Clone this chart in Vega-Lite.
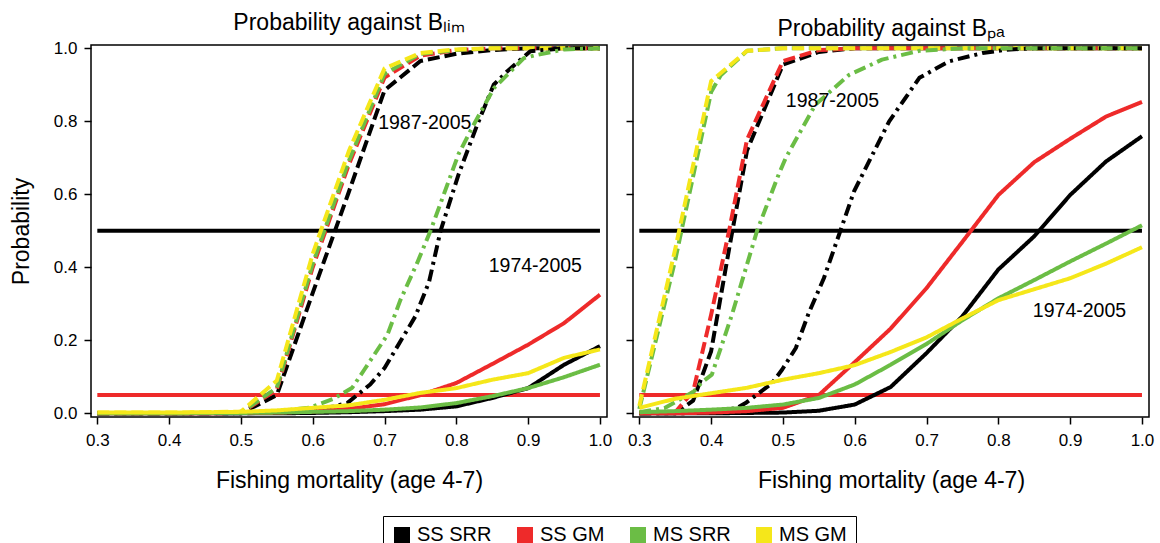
{
  "$schema": "https://vega.github.io/schema/vega-lite/v6.json",
  "background": "white",
  "padding": {"left": 9, "top": 11, "right": 5, "bottom": 5},
  "datasets": {
    "curves": [
      {"g":"lim","m":"SS SRR","s":"dashed","F":0.3,"P":0},{"g":"lim","m":"SS SRR","s":"dashed","F":0.35,"P":0},{"g":"lim","m":"SS SRR","s":"dashed","F":0.4,"P":0},{"g":"lim","m":"SS SRR","s":"dashed","F":0.45,"P":0},{"g":"lim","m":"SS SRR","s":"dashed","F":0.5,"P":0},{"g":"lim","m":"SS SRR","s":"dashed","F":0.515,"P":0.015},{"g":"lim","m":"SS SRR","s":"dashed","F":0.55,"P":0.05},{"g":"lim","m":"SS SRR","s":"dashed","F":0.6,"P":0.33},{"g":"lim","m":"SS SRR","s":"dashed","F":0.65,"P":0.605},{"g":"lim","m":"SS SRR","s":"dashed","F":0.7,"P":0.885},{"g":"lim","m":"SS SRR","s":"dashed","F":0.75,"P":0.965},{"g":"lim","m":"SS SRR","s":"dashed","F":0.8,"P":0.985},{"g":"lim","m":"SS SRR","s":"dashed","F":0.85,"P":0.995},{"g":"lim","m":"SS SRR","s":"dashed","F":0.9,"P":1},{"g":"lim","m":"SS SRR","s":"dashed","F":0.95,"P":1},{"g":"lim","m":"SS SRR","s":"dashed","F":1.0,"P":1},
      {"g":"lim","m":"SS GM","s":"dashed","F":0.3,"P":0},{"g":"lim","m":"SS GM","s":"dashed","F":0.35,"P":0},{"g":"lim","m":"SS GM","s":"dashed","F":0.4,"P":0},{"g":"lim","m":"SS GM","s":"dashed","F":0.45,"P":0.001},{"g":"lim","m":"SS GM","s":"dashed","F":0.5,"P":0.003},{"g":"lim","m":"SS GM","s":"dashed","F":0.515,"P":0.02},{"g":"lim","m":"SS GM","s":"dashed","F":0.55,"P":0.065},{"g":"lim","m":"SS GM","s":"dashed","F":0.6,"P":0.4},{"g":"lim","m":"SS GM","s":"dashed","F":0.65,"P":0.68},{"g":"lim","m":"SS GM","s":"dashed","F":0.7,"P":0.92},{"g":"lim","m":"SS GM","s":"dashed","F":0.75,"P":0.98},{"g":"lim","m":"SS GM","s":"dashed","F":0.8,"P":0.995},{"g":"lim","m":"SS GM","s":"dashed","F":0.85,"P":1},{"g":"lim","m":"SS GM","s":"dashed","F":0.9,"P":1},{"g":"lim","m":"SS GM","s":"dashed","F":0.95,"P":1},{"g":"lim","m":"SS GM","s":"dashed","F":1.0,"P":1},
      {"g":"lim","m":"MS SRR","s":"dashed","F":0.3,"P":0},{"g":"lim","m":"MS SRR","s":"dashed","F":0.35,"P":0},{"g":"lim","m":"MS SRR","s":"dashed","F":0.4,"P":0},{"g":"lim","m":"MS SRR","s":"dashed","F":0.45,"P":0.001},{"g":"lim","m":"MS SRR","s":"dashed","F":0.5,"P":0.004},{"g":"lim","m":"MS SRR","s":"dashed","F":0.515,"P":0.022},{"g":"lim","m":"MS SRR","s":"dashed","F":0.55,"P":0.07},{"g":"lim","m":"MS SRR","s":"dashed","F":0.6,"P":0.41},{"g":"lim","m":"MS SRR","s":"dashed","F":0.65,"P":0.69},{"g":"lim","m":"MS SRR","s":"dashed","F":0.7,"P":0.93},{"g":"lim","m":"MS SRR","s":"dashed","F":0.75,"P":0.985},{"g":"lim","m":"MS SRR","s":"dashed","F":0.8,"P":0.995},{"g":"lim","m":"MS SRR","s":"dashed","F":0.85,"P":1},{"g":"lim","m":"MS SRR","s":"dashed","F":0.9,"P":1},{"g":"lim","m":"MS SRR","s":"dashed","F":0.95,"P":1},{"g":"lim","m":"MS SRR","s":"dashed","F":1.0,"P":1},
      {"g":"lim","m":"MS GM","s":"dashed","F":0.3,"P":0.002},{"g":"lim","m":"MS GM","s":"dashed","F":0.35,"P":0.002},{"g":"lim","m":"MS GM","s":"dashed","F":0.4,"P":0.002},{"g":"lim","m":"MS GM","s":"dashed","F":0.45,"P":0.003},{"g":"lim","m":"MS GM","s":"dashed","F":0.5,"P":0.005},{"g":"lim","m":"MS GM","s":"dashed","F":0.515,"P":0.03},{"g":"lim","m":"MS GM","s":"dashed","F":0.55,"P":0.09},{"g":"lim","m":"MS GM","s":"dashed","F":0.6,"P":0.437},{"g":"lim","m":"MS GM","s":"dashed","F":0.65,"P":0.717},{"g":"lim","m":"MS GM","s":"dashed","F":0.7,"P":0.945},{"g":"lim","m":"MS GM","s":"dashed","F":0.75,"P":0.987},{"g":"lim","m":"MS GM","s":"dashed","F":0.8,"P":0.997},{"g":"lim","m":"MS GM","s":"dashed","F":0.85,"P":1},{"g":"lim","m":"MS GM","s":"dashed","F":0.9,"P":1},{"g":"lim","m":"MS GM","s":"dashed","F":0.95,"P":1},{"g":"lim","m":"MS GM","s":"dashed","F":1.0,"P":1},

      {"g":"lim","m":"SS SRR","s":"dashdot","F":0.3,"P":0},{"g":"lim","m":"SS SRR","s":"dashdot","F":0.35,"P":0},{"g":"lim","m":"SS SRR","s":"dashdot","F":0.4,"P":0},{"g":"lim","m":"SS SRR","s":"dashdot","F":0.45,"P":0},{"g":"lim","m":"SS SRR","s":"dashdot","F":0.5,"P":0},{"g":"lim","m":"SS SRR","s":"dashdot","F":0.55,"P":0.002},{"g":"lim","m":"SS SRR","s":"dashdot","F":0.6,"P":0.008},{"g":"lim","m":"SS SRR","s":"dashdot","F":0.629,"P":0.019},{"g":"lim","m":"SS SRR","s":"dashdot","F":0.648,"P":0.028},{"g":"lim","m":"SS SRR","s":"dashdot","F":0.68,"P":0.079},{"g":"lim","m":"SS SRR","s":"dashdot","F":0.7,"P":0.124},{"g":"lim","m":"SS SRR","s":"dashdot","F":0.743,"P":0.266},{"g":"lim","m":"SS SRR","s":"dashdot","F":0.762,"P":0.36},{"g":"lim","m":"SS SRR","s":"dashdot","F":0.778,"P":0.5},{"g":"lim","m":"SS SRR","s":"dashdot","F":0.803,"P":0.654},{"g":"lim","m":"SS SRR","s":"dashdot","F":0.829,"P":0.79},{"g":"lim","m":"SS SRR","s":"dashdot","F":0.852,"P":0.9},{"g":"lim","m":"SS SRR","s":"dashdot","F":0.871,"P":0.937},{"g":"lim","m":"SS SRR","s":"dashdot","F":0.903,"P":0.992},{"g":"lim","m":"SS SRR","s":"dashdot","F":0.95,"P":1},{"g":"lim","m":"SS SRR","s":"dashdot","F":1.0,"P":1},
      {"g":"lim","m":"MS SRR","s":"dashdot","F":0.3,"P":0},{"g":"lim","m":"MS SRR","s":"dashdot","F":0.35,"P":0},{"g":"lim","m":"MS SRR","s":"dashdot","F":0.4,"P":0},{"g":"lim","m":"MS SRR","s":"dashdot","F":0.45,"P":0.001},{"g":"lim","m":"MS SRR","s":"dashdot","F":0.5,"P":0.002},{"g":"lim","m":"MS SRR","s":"dashdot","F":0.55,"P":0.005},{"g":"lim","m":"MS SRR","s":"dashdot","F":0.597,"P":0.016},{"g":"lim","m":"MS SRR","s":"dashdot","F":0.629,"P":0.04},{"g":"lim","m":"MS SRR","s":"dashdot","F":0.655,"P":0.07},{"g":"lim","m":"MS SRR","s":"dashdot","F":0.672,"P":0.12},{"g":"lim","m":"MS SRR","s":"dashdot","F":0.704,"P":0.215},{"g":"lim","m":"MS SRR","s":"dashdot","F":0.722,"P":0.31},{"g":"lim","m":"MS SRR","s":"dashdot","F":0.745,"P":0.41},{"g":"lim","m":"MS SRR","s":"dashdot","F":0.764,"P":0.5},{"g":"lim","m":"MS SRR","s":"dashdot","F":0.803,"P":0.71},{"g":"lim","m":"MS SRR","s":"dashdot","F":0.824,"P":0.79},{"g":"lim","m":"MS SRR","s":"dashdot","F":0.852,"P":0.89},{"g":"lim","m":"MS SRR","s":"dashdot","F":0.894,"P":0.973},{"g":"lim","m":"MS SRR","s":"dashdot","F":0.908,"P":0.98},{"g":"lim","m":"MS SRR","s":"dashdot","F":0.95,"P":0.997},{"g":"lim","m":"MS SRR","s":"dashdot","F":1.0,"P":1},

      {"g":"lim","m":"SS SRR","s":"solid","F":0.3,"P":0},{"g":"lim","m":"SS SRR","s":"solid","F":0.35,"P":0},{"g":"lim","m":"SS SRR","s":"solid","F":0.4,"P":0},{"g":"lim","m":"SS SRR","s":"solid","F":0.45,"P":0},{"g":"lim","m":"SS SRR","s":"solid","F":0.5,"P":0},{"g":"lim","m":"SS SRR","s":"solid","F":0.55,"P":0},{"g":"lim","m":"SS SRR","s":"solid","F":0.6,"P":0.001},{"g":"lim","m":"SS SRR","s":"solid","F":0.65,"P":0.003},{"g":"lim","m":"SS SRR","s":"solid","F":0.7,"P":0.006},{"g":"lim","m":"SS SRR","s":"solid","F":0.75,"P":0.01},{"g":"lim","m":"SS SRR","s":"solid","F":0.8,"P":0.019},{"g":"lim","m":"SS SRR","s":"solid","F":0.85,"P":0.042},{"g":"lim","m":"SS SRR","s":"solid","F":0.9,"P":0.069},{"g":"lim","m":"SS SRR","s":"solid","F":0.95,"P":0.133},{"g":"lim","m":"SS SRR","s":"solid","F":1.0,"P":0.184},
      {"g":"lim","m":"SS GM","s":"solid","F":0.3,"P":0},{"g":"lim","m":"SS GM","s":"solid","F":0.35,"P":0},{"g":"lim","m":"SS GM","s":"solid","F":0.4,"P":0},{"g":"lim","m":"SS GM","s":"solid","F":0.45,"P":0},{"g":"lim","m":"SS GM","s":"solid","F":0.5,"P":0.001},{"g":"lim","m":"SS GM","s":"solid","F":0.55,"P":0.002},{"g":"lim","m":"SS GM","s":"solid","F":0.6,"P":0.005},{"g":"lim","m":"SS GM","s":"solid","F":0.65,"P":0.012},{"g":"lim","m":"SS GM","s":"solid","F":0.7,"P":0.025},{"g":"lim","m":"SS GM","s":"solid","F":0.75,"P":0.05},{"g":"lim","m":"SS GM","s":"solid","F":0.8,"P":0.083},{"g":"lim","m":"SS GM","s":"solid","F":0.85,"P":0.135},{"g":"lim","m":"SS GM","s":"solid","F":0.9,"P":0.188},{"g":"lim","m":"SS GM","s":"solid","F":0.95,"P":0.247},{"g":"lim","m":"SS GM","s":"solid","F":1.0,"P":0.325},
      {"g":"lim","m":"MS SRR","s":"solid","F":0.3,"P":0},{"g":"lim","m":"MS SRR","s":"solid","F":0.35,"P":0},{"g":"lim","m":"MS SRR","s":"solid","F":0.4,"P":0},{"g":"lim","m":"MS SRR","s":"solid","F":0.45,"P":0.001},{"g":"lim","m":"MS SRR","s":"solid","F":0.5,"P":0.001},{"g":"lim","m":"MS SRR","s":"solid","F":0.55,"P":0.002},{"g":"lim","m":"MS SRR","s":"solid","F":0.6,"P":0.004},{"g":"lim","m":"MS SRR","s":"solid","F":0.65,"P":0.006},{"g":"lim","m":"MS SRR","s":"solid","F":0.7,"P":0.01},{"g":"lim","m":"MS SRR","s":"solid","F":0.75,"P":0.016},{"g":"lim","m":"MS SRR","s":"solid","F":0.8,"P":0.028},{"g":"lim","m":"MS SRR","s":"solid","F":0.85,"P":0.047},{"g":"lim","m":"MS SRR","s":"solid","F":0.9,"P":0.069},{"g":"lim","m":"MS SRR","s":"solid","F":0.95,"P":0.099},{"g":"lim","m":"MS SRR","s":"solid","F":1.0,"P":0.133},
      {"g":"lim","m":"MS GM","s":"solid","F":0.3,"P":0.002},{"g":"lim","m":"MS GM","s":"solid","F":0.35,"P":0.002},{"g":"lim","m":"MS GM","s":"solid","F":0.4,"P":0.002},{"g":"lim","m":"MS GM","s":"solid","F":0.45,"P":0.003},{"g":"lim","m":"MS GM","s":"solid","F":0.5,"P":0.004},{"g":"lim","m":"MS GM","s":"solid","F":0.55,"P":0.008},{"g":"lim","m":"MS GM","s":"solid","F":0.6,"P":0.015},{"g":"lim","m":"MS GM","s":"solid","F":0.65,"P":0.022},{"g":"lim","m":"MS GM","s":"solid","F":0.7,"P":0.037},{"g":"lim","m":"MS GM","s":"solid","F":0.75,"P":0.056},{"g":"lim","m":"MS GM","s":"solid","F":0.8,"P":0.069},{"g":"lim","m":"MS GM","s":"solid","F":0.85,"P":0.092},{"g":"lim","m":"MS GM","s":"solid","F":0.9,"P":0.11},{"g":"lim","m":"MS GM","s":"solid","F":0.95,"P":0.152},{"g":"lim","m":"MS GM","s":"solid","F":1.0,"P":0.175},

      {"g":"pa","m":"SS SRR","s":"dashed","F":0.3,"P":0},{"g":"pa","m":"SS SRR","s":"dashed","F":0.35,"P":0},{"g":"pa","m":"SS SRR","s":"dashed","F":0.375,"P":0.035},{"g":"pa","m":"SS SRR","s":"dashed","F":0.4,"P":0.17},{"g":"pa","m":"SS SRR","s":"dashed","F":0.425,"P":0.45},{"g":"pa","m":"SS SRR","s":"dashed","F":0.45,"P":0.72},{"g":"pa","m":"SS SRR","s":"dashed","F":0.5,"P":0.955},{"g":"pa","m":"SS SRR","s":"dashed","F":0.55,"P":0.99},{"g":"pa","m":"SS SRR","s":"dashed","F":0.6,"P":1},{"g":"pa","m":"SS SRR","s":"dashed","F":0.7,"P":1},{"g":"pa","m":"SS SRR","s":"dashed","F":0.8,"P":1},{"g":"pa","m":"SS SRR","s":"dashed","F":0.9,"P":1},{"g":"pa","m":"SS SRR","s":"dashed","F":1.0,"P":1},
      {"g":"pa","m":"SS GM","s":"dashed","F":0.3,"P":0},{"g":"pa","m":"SS GM","s":"dashed","F":0.35,"P":0.003},{"g":"pa","m":"SS GM","s":"dashed","F":0.375,"P":0.06},{"g":"pa","m":"SS GM","s":"dashed","F":0.4,"P":0.27},{"g":"pa","m":"SS GM","s":"dashed","F":0.425,"P":0.5},{"g":"pa","m":"SS GM","s":"dashed","F":0.45,"P":0.75},{"g":"pa","m":"SS GM","s":"dashed","F":0.5,"P":0.965},{"g":"pa","m":"SS GM","s":"dashed","F":0.55,"P":0.995},{"g":"pa","m":"SS GM","s":"dashed","F":0.6,"P":1},{"g":"pa","m":"SS GM","s":"dashed","F":0.7,"P":1},{"g":"pa","m":"SS GM","s":"dashed","F":0.8,"P":1},{"g":"pa","m":"SS GM","s":"dashed","F":0.9,"P":1},{"g":"pa","m":"SS GM","s":"dashed","F":1.0,"P":1},
      {"g":"pa","m":"MS SRR","s":"dashed","F":0.3,"P":0.012},{"g":"pa","m":"MS SRR","s":"dashed","F":0.35,"P":0.42},{"g":"pa","m":"MS SRR","s":"dashed","F":0.4,"P":0.88},{"g":"pa","m":"MS SRR","s":"dashed","F":0.413,"P":0.925},{"g":"pa","m":"MS SRR","s":"dashed","F":0.45,"P":0.993},{"g":"pa","m":"MS SRR","s":"dashed","F":0.5,"P":1},{"g":"pa","m":"MS SRR","s":"dashed","F":0.6,"P":1},{"g":"pa","m":"MS SRR","s":"dashed","F":0.7,"P":1},{"g":"pa","m":"MS SRR","s":"dashed","F":0.8,"P":1},{"g":"pa","m":"MS SRR","s":"dashed","F":0.9,"P":1},{"g":"pa","m":"MS SRR","s":"dashed","F":1.0,"P":1},
      {"g":"pa","m":"MS GM","s":"dashed","F":0.3,"P":0.02},{"g":"pa","m":"MS GM","s":"dashed","F":0.35,"P":0.45},{"g":"pa","m":"MS GM","s":"dashed","F":0.4,"P":0.91},{"g":"pa","m":"MS GM","s":"dashed","F":0.45,"P":0.993},{"g":"pa","m":"MS GM","s":"dashed","F":0.5,"P":1},{"g":"pa","m":"MS GM","s":"dashed","F":0.6,"P":1},{"g":"pa","m":"MS GM","s":"dashed","F":0.7,"P":1},{"g":"pa","m":"MS GM","s":"dashed","F":0.8,"P":1},{"g":"pa","m":"MS GM","s":"dashed","F":0.9,"P":1},{"g":"pa","m":"MS GM","s":"dashed","F":1.0,"P":1},

      {"g":"pa","m":"SS SRR","s":"dashdot","F":0.3,"P":0},{"g":"pa","m":"SS SRR","s":"dashdot","F":0.35,"P":0},{"g":"pa","m":"SS SRR","s":"dashdot","F":0.4,"P":0.002},{"g":"pa","m":"SS SRR","s":"dashdot","F":0.436,"P":0.015},{"g":"pa","m":"SS SRR","s":"dashdot","F":0.448,"P":0.028},{"g":"pa","m":"SS SRR","s":"dashdot","F":0.485,"P":0.083},{"g":"pa","m":"SS SRR","s":"dashdot","F":0.499,"P":0.12},{"g":"pa","m":"SS SRR","s":"dashdot","F":0.518,"P":0.179},{"g":"pa","m":"SS SRR","s":"dashdot","F":0.536,"P":0.275},{"g":"pa","m":"SS SRR","s":"dashdot","F":0.557,"P":0.37},{"g":"pa","m":"SS SRR","s":"dashdot","F":0.58,"P":0.5},{"g":"pa","m":"SS SRR","s":"dashdot","F":0.599,"P":0.608},{"g":"pa","m":"SS SRR","s":"dashdot","F":0.648,"P":0.8},{"g":"pa","m":"SS SRR","s":"dashdot","F":0.69,"P":0.919},{"g":"pa","m":"SS SRR","s":"dashdot","F":0.731,"P":0.964},{"g":"pa","m":"SS SRR","s":"dashdot","F":0.778,"P":0.987},{"g":"pa","m":"SS SRR","s":"dashdot","F":0.81,"P":0.996},{"g":"pa","m":"SS SRR","s":"dashdot","F":0.85,"P":1},{"g":"pa","m":"SS SRR","s":"dashdot","F":0.9,"P":1},{"g":"pa","m":"SS SRR","s":"dashdot","F":1.0,"P":1},
      {"g":"pa","m":"MS SRR","s":"dashdot","F":0.3,"P":0.003},{"g":"pa","m":"MS SRR","s":"dashdot","F":0.336,"P":0.015},{"g":"pa","m":"MS SRR","s":"dashdot","F":0.376,"P":0.06},{"g":"pa","m":"MS SRR","s":"dashdot","F":0.387,"P":0.085},{"g":"pa","m":"MS SRR","s":"dashdot","F":0.401,"P":0.106},{"g":"pa","m":"MS SRR","s":"dashdot","F":0.429,"P":0.27},{"g":"pa","m":"MS SRR","s":"dashdot","F":0.464,"P":0.5},{"g":"pa","m":"MS SRR","s":"dashdot","F":0.494,"P":0.654},{"g":"pa","m":"MS SRR","s":"dashdot","F":0.504,"P":0.7},{"g":"pa","m":"MS SRR","s":"dashdot","F":0.545,"P":0.845},{"g":"pa","m":"MS SRR","s":"dashdot","F":0.592,"P":0.927},{"g":"pa","m":"MS SRR","s":"dashdot","F":0.638,"P":0.969},{"g":"pa","m":"MS SRR","s":"dashdot","F":0.69,"P":0.993},{"g":"pa","m":"MS SRR","s":"dashdot","F":0.75,"P":1},{"g":"pa","m":"MS SRR","s":"dashdot","F":0.85,"P":1},{"g":"pa","m":"MS SRR","s":"dashdot","F":1.0,"P":1},

      {"g":"pa","m":"SS SRR","s":"solid","F":0.3,"P":0},{"g":"pa","m":"SS SRR","s":"solid","F":0.35,"P":0},{"g":"pa","m":"SS SRR","s":"solid","F":0.4,"P":0},{"g":"pa","m":"SS SRR","s":"solid","F":0.45,"P":0.001},{"g":"pa","m":"SS SRR","s":"solid","F":0.5,"P":0.002},{"g":"pa","m":"SS SRR","s":"solid","F":0.55,"P":0.007},{"g":"pa","m":"SS SRR","s":"solid","F":0.6,"P":0.024},{"g":"pa","m":"SS SRR","s":"solid","F":0.65,"P":0.072},{"g":"pa","m":"SS SRR","s":"solid","F":0.7,"P":0.165},{"g":"pa","m":"SS SRR","s":"solid","F":0.75,"P":0.266},{"g":"pa","m":"SS SRR","s":"solid","F":0.8,"P":0.394},{"g":"pa","m":"SS SRR","s":"solid","F":0.85,"P":0.485},{"g":"pa","m":"SS SRR","s":"solid","F":0.9,"P":0.598},{"g":"pa","m":"SS SRR","s":"solid","F":0.95,"P":0.69},{"g":"pa","m":"SS SRR","s":"solid","F":1.0,"P":0.759},
      {"g":"pa","m":"SS GM","s":"solid","F":0.3,"P":0},{"g":"pa","m":"SS GM","s":"solid","F":0.35,"P":0},{"g":"pa","m":"SS GM","s":"solid","F":0.4,"P":0.002},{"g":"pa","m":"SS GM","s":"solid","F":0.45,"P":0.006},{"g":"pa","m":"SS GM","s":"solid","F":0.5,"P":0.015},{"g":"pa","m":"SS GM","s":"solid","F":0.55,"P":0.05},{"g":"pa","m":"SS GM","s":"solid","F":0.6,"P":0.14},{"g":"pa","m":"SS GM","s":"solid","F":0.65,"P":0.232},{"g":"pa","m":"SS GM","s":"solid","F":0.7,"P":0.343},{"g":"pa","m":"SS GM","s":"solid","F":0.75,"P":0.47},{"g":"pa","m":"SS GM","s":"solid","F":0.8,"P":0.598},{"g":"pa","m":"SS GM","s":"solid","F":0.85,"P":0.688},{"g":"pa","m":"SS GM","s":"solid","F":0.9,"P":0.752},{"g":"pa","m":"SS GM","s":"solid","F":0.95,"P":0.813},{"g":"pa","m":"SS GM","s":"solid","F":1.0,"P":0.853},
      {"g":"pa","m":"MS SRR","s":"solid","F":0.3,"P":0.003},{"g":"pa","m":"MS SRR","s":"solid","F":0.35,"P":0.006},{"g":"pa","m":"MS SRR","s":"solid","F":0.4,"P":0.01},{"g":"pa","m":"MS SRR","s":"solid","F":0.45,"P":0.015},{"g":"pa","m":"MS SRR","s":"solid","F":0.5,"P":0.024},{"g":"pa","m":"MS SRR","s":"solid","F":0.55,"P":0.042},{"g":"pa","m":"MS SRR","s":"solid","F":0.6,"P":0.079},{"g":"pa","m":"MS SRR","s":"solid","F":0.65,"P":0.133},{"g":"pa","m":"MS SRR","s":"solid","F":0.7,"P":0.19},{"g":"pa","m":"MS SRR","s":"solid","F":0.75,"P":0.255},{"g":"pa","m":"MS SRR","s":"solid","F":0.8,"P":0.315},{"g":"pa","m":"MS SRR","s":"solid","F":0.85,"P":0.365},{"g":"pa","m":"MS SRR","s":"solid","F":0.9,"P":0.416},{"g":"pa","m":"MS SRR","s":"solid","F":0.95,"P":0.465},{"g":"pa","m":"MS SRR","s":"solid","F":1.0,"P":0.515},
      {"g":"pa","m":"MS GM","s":"solid","F":0.3,"P":0.015},{"g":"pa","m":"MS GM","s":"solid","F":0.35,"P":0.04},{"g":"pa","m":"MS GM","s":"solid","F":0.4,"P":0.055},{"g":"pa","m":"MS GM","s":"solid","F":0.45,"P":0.07},{"g":"pa","m":"MS GM","s":"solid","F":0.5,"P":0.092},{"g":"pa","m":"MS GM","s":"solid","F":0.55,"P":0.11},{"g":"pa","m":"MS GM","s":"solid","F":0.6,"P":0.132},{"g":"pa","m":"MS GM","s":"solid","F":0.65,"P":0.168},{"g":"pa","m":"MS GM","s":"solid","F":0.7,"P":0.208},{"g":"pa","m":"MS GM","s":"solid","F":0.75,"P":0.26},{"g":"pa","m":"MS GM","s":"solid","F":0.8,"P":0.31},{"g":"pa","m":"MS GM","s":"solid","F":0.85,"P":0.34},{"g":"pa","m":"MS GM","s":"solid","F":0.9,"P":0.37},{"g":"pa","m":"MS GM","s":"solid","F":0.95,"P":0.41},{"g":"pa","m":"MS GM","s":"solid","F":1.0,"P":0.455}
    ],
    "notes": [
      {"g":"lim","t":"1987-2005","F":0.756,"P":0.795},
      {"g":"lim","t":"1974-2005","F":0.91,"P":0.403},
      {"g":"pa","t":"1987-2005","F":0.569,"P":0.855},
      {"g":"pa","t":"1974-2005","F":0.913,"P":0.279}
    ],
    "refs": [
      {"level":0.5,"kind":"median"},
      {"level":0.05,"kind":"five"}
    ]
  },
  "hconcat": [
    {
      "width": 516,
      "height": 372,
      "title": "Probability against Bₗᵢₘ",
      "layer": [
        {
          "data": {"name": "refs"},
          "mark": {"type": "rule", "strokeWidth": 4},
          "encoding": {
            "x": {"datum": 0.3, "type": "quantitative"},
            "x2": {"datum": 1.0},
            "y": {"field": "level", "type": "quantitative"},
            "stroke": {"field": "kind", "type": "nominal", "scale": {"domain": ["median","five"], "range": ["#000000","#EE2A2A"]}, "legend": null}
          }
        },
        {
          "data": {"name": "curves"},
          "transform": [{"filter": "datum.g === 'lim'"}],
          "mark": {"type": "line", "strokeWidth": 4, "strokeCap": "butt", "strokeJoin": "round"},
          "encoding": {
            "x": {"field": "F", "type": "quantitative", "scale": {"domain": [0.2912, 1.0098], "nice": false, "zero": false},
                  "axis": {"values": [0.3,0.4,0.5,0.6,0.7,0.8,0.9,1.0], "format": ".1f", "title": "Fishing mortality (age 4-7)"}},
            "y": {"field": "P", "type": "quantitative", "scale": {"domain": [-0.0101, 1.009], "nice": false, "zero": false},
                  "axis": {"values": [0,0.2,0.4,0.6,0.8,1.0], "format": ".1f", "title": "Probability"}},
            "color": {"field": "m", "type": "nominal",
                      "scale": {"domain": ["SS SRR","SS GM","MS SRR","MS GM"], "range": ["#000000","#EE2A2A","#6BBD45","#F5E71A"]},
                      "legend": {"orient": "none", "legendX": 292, "legendY": 471, "direction": "horizontal", "title": null, "symbolType": "square", "symbolSize": 256,
                                 "labelFontSize": 20, "columnPadding": 23, "strokeColor": "black", "padding": 9, "symbolStrokeWidth": 0, "labelOffset": 5,
                                 "encode": {"symbols": {"update": {"fill": {"scale": "color", "field": "value"}, "fillOpacity": {"value": 1}}}}}},
            "strokeDash": {"field": "s", "type": "nominal", "scale": {"domain": ["solid","dashed","dashdot"], "range": [[1,0],[12,5],[12,5,3,5]]}, "legend": null},
            "order": {"field": "F", "type": "quantitative"}
          }
        },
        {
          "data": {"name": "notes"},
          "transform": [{"filter": "datum.g === 'lim'"}],
          "mark": {"type": "text", "fontSize": 19.5, "align": "center", "baseline": "middle", "color": "black"},
          "encoding": {
            "x": {"field": "F", "type": "quantitative"},
            "y": {"field": "P", "type": "quantitative"},
            "text": {"field": "t"}
          }
        }
      ]
    },
    {
      "width": 516,
      "height": 372,
      "title": "Probability against Bₚₐ",
      "layer": [
        {
          "data": {"name": "refs"},
          "mark": {"type": "rule", "strokeWidth": 4},
          "encoding": {
            "x": {"datum": 0.3, "type": "quantitative"},
            "x2": {"datum": 1.0},
            "y": {"field": "level", "type": "quantitative"},
            "stroke": {"field": "kind", "type": "nominal", "scale": {"domain": ["median","five"], "range": ["#000000","#EE2A2A"]}, "legend": null}
          }
        },
        {
          "data": {"name": "curves"},
          "transform": [{"filter": "datum.g === 'pa'"}],
          "mark": {"type": "line", "strokeWidth": 4, "strokeCap": "butt", "strokeJoin": "round"},
          "encoding": {
            "x": {"field": "F", "type": "quantitative", "scale": {"domain": [0.2912, 1.0098], "nice": false, "zero": false},
                  "axis": {"values": [0.3,0.4,0.5,0.6,0.7,0.8,0.9,1.0], "format": ".1f", "title": "Fishing mortality (age 4-7)"}},
            "y": {"field": "P", "type": "quantitative", "scale": {"domain": [-0.0101, 1.009], "nice": false, "zero": false},
                  "axis": {"values": [0,0.2,0.4,0.6,0.8,1.0], "labels": false, "title": null}},
            "color": {"field": "m", "type": "nominal",
                      "scale": {"domain": ["SS SRR","SS GM","MS SRR","MS GM"], "range": ["#000000","#EE2A2A","#6BBD45","#F5E71A"]}},
            "strokeDash": {"field": "s", "type": "nominal", "scale": {"domain": ["solid","dashed","dashdot"], "range": [[1,0],[12,5],[12,5,3,5]]}, "legend": null},
            "order": {"field": "F", "type": "quantitative"}
          }
        },
        {
          "data": {"name": "notes"},
          "transform": [{"filter": "datum.g === 'pa'"}],
          "mark": {"type": "text", "fontSize": 19.5, "align": "center", "baseline": "middle", "color": "black"},
          "encoding": {
            "x": {"field": "F", "type": "quantitative"},
            "y": {"field": "P", "type": "quantitative"},
            "text": {"field": "t"}
          }
        }
      ]
    }
  ],
  "config": {
    "font": "Liberation Sans",
    "view": {"stroke": "black", "strokeWidth": 1.5},
    "axis": {"domain": false, "grid": false, "tickColor": "black", "tickSize": 7, "tickWidth": 1.5, "labelColor": "black", "labelFontSize": 17, "titleFontSize": 23, "titleFontWeight": "normal", "titleColor": "black", "labelPadding": 7},
    "axisX": {"labelPadding": 8, "titlePadding": 21},
    "axisY": {"titlePadding": 20},
    "title": {"fontSize": 23, "fontWeight": "normal", "color": "black", "offset": 4},
    "concat": {"spacing": 11}
  }
}
